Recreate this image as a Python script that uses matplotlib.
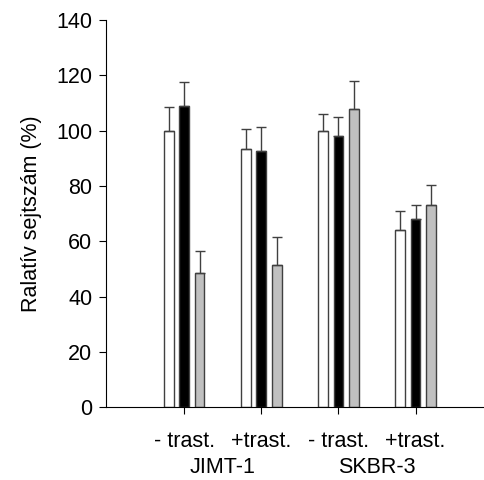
import numpy as np
import matplotlib.pyplot as plt

plt.rcParams['font.family'] = ['Liberation Sans', 'DejaVu Sans']

conditions = ['- trast.', '+trast.', '- trast.', '+trast.']
cell_lines = ['JIMT-1', 'SKBR-3']

# three series per condition (white, black, gray bars)
white = [100, 93.5, 100, 64]
white_err = [8.5, 7, 6, 7]
black = [109, 92.5, 98, 68]
black_err = [8.5, 9, 7, 5]
gray = [48.5, 51.5, 108, 73]
gray_err = [8, 10, 10, 7.5]

fig = plt.figure(figsize=(4.85, 4.8), dpi=100)
ax = fig.add_axes([0.2186, 0.152, 0.7814, 0.806])

x = np.arange(len(conditions))
w = 0.125
off = 0.2
err_kw = dict(ecolor='#404040', elinewidth=1.0, capthick=1.0)
for vals, errs, col, dx in [(white, white_err, 'white', -off),
                            (black, black_err, 'black', 0),
                            (gray, gray_err, '#c0c0c0', off)]:
    ax.bar(x + dx, vals, w, color=col, edgecolor='#404040', linewidth=1.0,
           yerr=[np.zeros(len(errs)), errs], capsize=3.5, error_kw=err_kw, zorder=2)

ax.set_xlim(-1.013, 3.9)
ax.set_ylim(0, 140)
ax.set_yticks(np.arange(0, 141, 20))
ax.set_xticks(x)
ax.set_xticklabels(conditions, fontsize=15.5)
ax.tick_params(axis='y', labelsize=15.5, length=5, direction='out', pad=5)
ax.tick_params(axis='x', length=5, direction='out', pad=12)
ax.spines['top'].set_visible(False)
ax.spines['right'].set_visible(False)
ax.set_ylabel('Ralatív sejtszám (%)', fontsize=15.5, labelpad=10)

for i, name in enumerate(cell_lines):
    ax.text(2 * i + 0.5, -0.155, name, transform=ax.get_xaxis_transform(),
            ha='center', va='center', fontsize=15.5)

fig.savefig('out.png', dpi=100)
